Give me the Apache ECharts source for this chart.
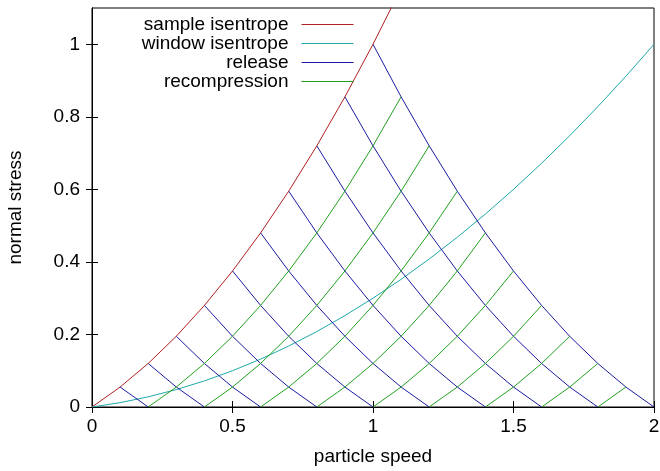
<!DOCTYPE html>
<html>
<head>
<meta charset="utf-8">
<script src="https://cdn.jsdelivr.net/npm/echarts@6/dist/echarts.min.js"></script>
<style>
html,body{margin:0;padding:0;background:#fff;}
#chart{width:660px;height:471px;}
</style>
</head>
<body>
<div id="chart"></div>
<script>
// ---- data ----
const xTicks = [0, 0.5, 1, 1.5, 2];
const yTicks = [0, 0.2, 0.4, 0.6, 0.8, 1];

// sample isentrope: particle speed / normal stress
const sampleSpeed  = [0, 0.1, 0.2, 0.3, 0.4, 0.5, 0.6, 0.7, 0.8, 0.9, 1.0, 1.1];
const sampleStress = [0, 0.055, 0.12, 0.195, 0.28, 0.375, 0.48, 0.595, 0.72, 0.855, 1.0, 1.155];

// window isentrope
const windowSpeed  = [0, 0.1, 0.2, 0.3, 0.4, 0.5, 0.6, 0.7, 0.8, 0.9, 1.0, 1.1, 1.2, 1.3, 1.4, 1.5, 1.6, 1.7, 1.8, 1.9, 2.0];
const windowStress = [0, 0.012, 0.028, 0.048, 0.072, 0.1, 0.132, 0.168, 0.208, 0.252, 0.3, 0.352, 0.408, 0.468, 0.532, 0.6, 0.672, 0.748, 0.828, 0.912, 1.0];

// release paths: start speed, stresses at 0.1 speed steps
const stepSpeed = 0.1;
const releaseStart = [0.1, 0.2, 0.3, 0.4, 0.5, 0.6, 0.7, 0.8, 0.9, 1.0];
const releaseStress = [
  [0.055, 0],
  [0.12, 0.055, 0],
  [0.195, 0.12, 0.055, 0],
  [0.28, 0.195, 0.12, 0.055, 0],
  [0.375, 0.28, 0.195, 0.12, 0.055, 0],
  [0.48, 0.375, 0.28, 0.195, 0.12, 0.055, 0],
  [0.595, 0.48, 0.375, 0.28, 0.195, 0.12, 0.055, 0],
  [0.72, 0.595, 0.48, 0.375, 0.28, 0.195, 0.12, 0.055, 0],
  [0.855, 0.72, 0.595, 0.48, 0.375, 0.28, 0.195, 0.12, 0.055, 0],
  [1.0, 0.855, 0.72, 0.595, 0.48, 0.375, 0.28, 0.195, 0.12, 0.055, 0]
];

// recompression paths: start speed, stresses at 0.1 speed steps
const recompStart = [0.2, 0.4, 0.6, 0.8, 1.0, 1.2, 1.4, 1.6, 1.8];
const recompStress = [
  [0, 0.055, 0.12, 0.195, 0.28, 0.375, 0.48, 0.595, 0.72, 0.855],
  [0, 0.055, 0.12, 0.195, 0.28, 0.375, 0.48, 0.595, 0.72],
  [0, 0.055, 0.12, 0.195, 0.28, 0.375, 0.48, 0.595],
  [0, 0.055, 0.12, 0.195, 0.28, 0.375, 0.48],
  [0, 0.055, 0.12, 0.195, 0.28, 0.375],
  [0, 0.055, 0.12, 0.195, 0.28],
  [0, 0.055, 0.12, 0.195],
  [0, 0.055, 0.12],
  [0, 0.055]
];

// ---- build ----
const FONT = 'Liberation Sans, Arial, sans-serif';
const C_SAMPLE = '#b02020', C_WINDOW = '#20a8a8', C_REL = '#1c1ca0', C_REC = '#22a022';

function zip(xs, ys){ return xs.map((x,i)=>[x, ys[i]]); }
function path(start, ys){ return ys.map((y,j)=>[+(start + j*stepSpeed).toFixed(3), y]); }
function lineSeries(name, data, color){
  return { name, type:'line', data, showSymbol:false, symbol:'none', clip:true,
           xAxisIndex:0, yAxisIndex:0,
           lineStyle:{color, width:1}, itemStyle:{color}, silent:true, animation:false, z:2 };
}

const series = [];
series.push(lineSeries('sample isentrope', zip(sampleSpeed, sampleStress), C_SAMPLE));
series.push(lineSeries('window isentrope', zip(windowSpeed, windowStress), C_WINDOW));
releaseStart.forEach((s,i)=>series.push(lineSeries('release', path(s, releaseStress[i]), C_REL)));
recompStart.forEach((s,i)=>series.push(lineSeries('recompression', path(s, recompStress[i]), C_REC)));

const axisCommonX = { type:'value', min:0, max:2, interval:0.5 };
const axisCommonY = { type:'value', min:0, max:1.1, interval:0.2 };
const tickStyle = {show:true, inside:true, length:6, lineStyle:{color:'#000', width:1}};

const option = {
  backgroundColor:'#fff',
  animation:false,
  textStyle:{fontFamily:FONT},
  grid:{left:92, right:6, top:8, bottom:64, containLabel:false, outerBoundsMode:'none',
        show:true, borderColor:'#000', borderWidth:1, backgroundColor:'transparent'},
  legend:{
    data:['sample isentrope','window isentrope','release','recompression'],
    orient:'vertical', align:'right', right:301, top:10,
    itemWidth:52, itemHeight:14, itemGap:0,
    itemStyle:{opacity:0},
    lineStyle:{width:1},
    textStyle:{fontFamily:FONT, fontSize:19, color:'#000', lineHeight:18, padding:[0,8,0,0]},
    selectedMode:false
  },
  xAxis:[
    Object.assign({}, axisCommonX, {
      position:'bottom', name:'particle speed', nameLocation:'middle', nameGap:40,
      nameTextStyle:{fontFamily:FONT, fontSize:19, color:'#000'},
      axisLine:{show:true, lineStyle:{color:'#000', width:1}},
      axisTick:Object.assign({customValues:xTicks}, tickStyle),
      axisLabel:{show:true, margin:10, fontFamily:FONT, fontSize:19, color:'#000', customValues:xTicks},
      splitLine:{show:false}
    }),
    Object.assign({}, axisCommonX, {
      position:'top',
      axisLine:{show:true, lineStyle:{color:'#000', width:1}},
      axisTick:Object.assign({customValues:xTicks}, tickStyle),
      axisLabel:{show:false}, splitLine:{show:false}
    })
  ],
  yAxis:[
    Object.assign({}, axisCommonY, {
      position:'left', name:'normal stress', nameLocation:'middle', nameGap:67,
      nameTextStyle:{fontFamily:FONT, fontSize:19, color:'#000'},
      axisLine:{show:true, lineStyle:{color:'#000', width:1}},
      axisTick:Object.assign({customValues:yTicks}, tickStyle),
      axisLabel:{show:true, margin:12, fontFamily:FONT, fontSize:19, color:'#000', customValues:yTicks},
      splitLine:{show:false}
    }),
    Object.assign({}, axisCommonY, {
      position:'right',
      axisLine:{show:true, lineStyle:{color:'#000', width:1}},
      axisTick:Object.assign({customValues:yTicks}, tickStyle),
      axisLabel:{show:false}, splitLine:{show:false}
    })
  ],
  series: series
};

const chart = echarts.init(document.getElementById('chart'), null, {renderer:'canvas'});
chart.setOption(option);
</script>
</body>
</html>
